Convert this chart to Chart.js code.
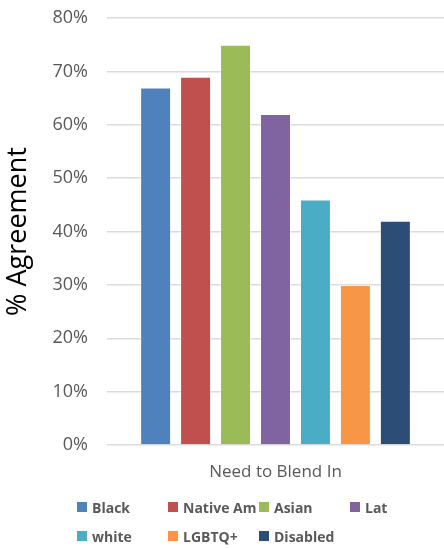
<!DOCTYPE html>
<html>
<head>
<meta charset="utf-8">
<script src="https://cdn.jsdelivr.net/npm/chart.js@4"></script>
<style>
  html, body { margin: 0; padding: 0; background: #fff; }
  #wrap { position: relative; width: 444px; height: 549px; }
  #legend {
    position: absolute; left: 77px; top: 497px;
    display: grid; grid-template-columns: repeat(4, 91px); row-gap: 9px;
    font-family: "Open Sans", sans-serif; font-weight: bold; font-size: 14px; color: #595959;
  }
  .item { display: flex; align-items: center; height: 20px; white-space: nowrap; }
  .box { width: 10px; height: 10px; margin-right: 5px; flex: none; }
</style>
</head>
<body>
<div id="wrap">
  <canvas id="myChart"></canvas>
  <div id="legend"></div>
</div>
<script>
const categories = ['Need to Blend In'];
const groups = ['Black', 'Native Am', 'Asian', 'Lat', 'white', 'LGBTQ+', 'Disabled'];
const agreement = [67, 69, 75, 62, 46, 30, 42];
const colors = ['#4f81bd', '#c0504d', '#9bbb59', '#8064a2', '#4bacc6', '#f79646', '#2c4d75'];
const yTicks = [0, 10, 20, 30, 40, 50, 60, 70, 80];

let datasets = [];
for (let i = 0; i < groups.length; i++) {
  datasets.push({
    label: groups[i],
    data: [agreement[i]],
    backgroundColor: colors[i],
    borderColor: 'rgba(255,255,255,0.35)',
    borderWidth: 1
  });
}

const chart = new Chart('myChart', {
  type: 'bar',
  data: { labels: categories, datasets: datasets },
  options: {
    responsive: true,
    maintainAspectRatio: false,
    animation: false,
    layout: { padding: { top: 0, right: 0, bottom: 59, left: 0 } },
    plugins: {
      legend: { display: false },
      tooltip: { enabled: false }
    },
    datasets: {
      bar: { categoryPercentage: 0.83, barPercentage: 0.775 }
    },
    scales: {
      x: {
        grid: { display: false },
        border: { display: false },
        ticks: {
          color: '#595959',
          padding: 9,
          font: { family: 'Open Sans', size: 17 }
        },
        afterFit: (scale) => { scale.height = 45; }
      },
      y: {
        min: 0,
        max: 80,
        afterBuildTicks: (scale) => { scale.ticks = yTicks.map(v => ({ value: v })); },
        grid: { color: '#dcdcdc', lineWidth: 1.5, drawTicks: false },
        border: { display: false },
        ticks: {
          color: '#595959',
          padding: 19,
          font: { family: 'Open Sans', size: 18 },
          callback: (v) => v + '%'
        },
        title: {
          display: true,
          text: '% Agreement',
          color: '#000',
          padding: { top: 2, bottom: 0 },
          font: { family: 'Open Sans', size: 27 }
        },
        afterFit: (scale) => {
          scale.width = 107;
          scale.paddingTop = 18;
        }
      }
    }
  }
});

let legendBox = document.getElementById('legend');
chart.data.datasets.forEach((ds, i) => {
  let item = document.createElement('div');
  item.className = 'item';
  let box = document.createElement('span');
  box.className = 'box';
  box.style.background = ds.backgroundColor;
  let txt = document.createElement('span');
  txt.textContent = ds.label;
  item.append(box, txt);
  legendBox.append(item);
});
</script>
</body>
</html>
